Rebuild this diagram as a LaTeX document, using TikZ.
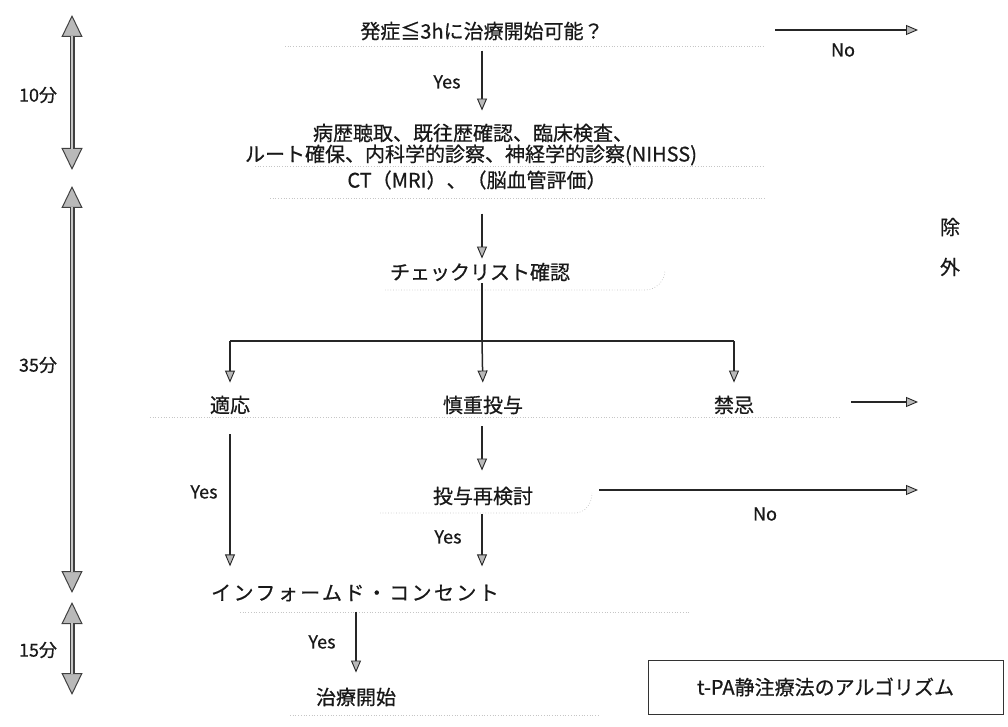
\documentclass[tikz,border=0pt]{standalone}
\usepackage{fontspec}
\setmainfont{Noto Sans CJK JP}[FakeBold=0.6]
\usetikzlibrary{arrows.meta}
\begin{document}
\begin{tikzpicture}[x=1pt,y=-1pt,
  txt/.style={font=\fontsize{20}{24}\selectfont, inner sep=2pt, text=black!90},
  lbl/.style={font=\fontsize{18}{21}\selectfont, inner sep=1pt, text=black!90},
  ln/.style={line width=1.5pt, draw=black!85},
  arr/.style={ln, -{Triangle[length=12pt,width=10pt,fill=gray!55,line width=0.9pt]}},
  tl/.style={line width=5pt, draw=black!75,
    {Triangle[length=22pt,width=21pt,fill=gray!55,line width=1pt]}-{Triangle[length=22pt,width=21pt,fill=gray!55,line width=1pt]}},
  tlin/.style={line width=1.6pt, draw=gray!45, shorten <=21pt, shorten >=21pt},
  trace/.style={draw=gray!45, line width=0.7pt, dotted},
  titlebox/.style={draw=black!80, line width=1pt, minimum width=355pt, minimum height=54pt, font=\fontsize{20}{24}\selectfont, text=black!90}]
\useasboundingbox[fill=white] (0,0) rectangle (1008,727);

% faint scan traces of the original boxes
\draw[trace] (285,46) -- (765,46);
\draw[trace] (255,166) -- (765,166);
\draw[trace] (270,198) -- (765,198);
\draw[trace] (385,290) -- (645,290) to[out=0,in=-90] (665,270);
\draw[trace] (150,417) -- (840,417);
\draw[trace] (380,513) -- (575,513) to[out=0,in=-90] (592,493);
\draw[trace] (240,612) -- (690,612);
\draw[trace] (290,715) -- (600,715);

% timeline
\coordinate (t1a) at (72,15);  \coordinate (t1b) at (72,170);
\coordinate (t2a) at (72,186); \coordinate (t2b) at (72,593);
\coordinate (t3a) at (72,602); \coordinate (t3b) at (72,695);
\draw[tl] (t1a) -- (t1b);  \draw[tlin] (t1a) -- (t1b);
\draw[tl] (t2a) -- (t2b);  \draw[tlin] (t2a) -- (t2b);
\draw[tl] (t3a) -- (t3b);  \draw[tlin] (t3a) -- (t3b);
\node[lbl] (m10) at (38,95) {10分};
\node[lbl] (m35) at (38,365) {35分};
\node[lbl] (m15) at (38,650) {15分};

% nodes
\node[txt] (q)  at (482,31)  {発症≦3hに治療開始可能？};
\node[txt] (h1) at (473,133) {病歴聴取、既往歴確認、臨床検査、};
\node[txt] (h2) at (471,155) {ルート確保、内科学的診察、神経学的診察(NIHSS)};
\node[txt] (ct) at (477,180) {CT（MRI）、（脳血管評価）};
\node[txt] (ch) at (480,272) {チェックリスト確認};
\node[txt] (a1) at (230,405) {適応};
\node[txt] (a2) at (483,405) {慎重投与};
\node[txt] (a3) at (734,405) {禁忌};
\node[txt] (re) at (483,496) {投与再検討};
\node[txt, font=\fontsize{20}{24}\selectfont\addfontfeature{LetterSpace=12}] (ic) at (355,593) {インフォームド・コンセント};
\node[txt] (st) at (356,697) {治療開始};
\node[txt, align=center, font=\fontsize{20}{40}\selectfont] (ex) at (950,247) {除\\外};
\node[titlebox] (title) at (825.5,687) {t-PA静注療法のアルゴリズム};

% helper coordinates
\coordinate (sp) at (482,0);
\coordinate (sl) at (230,0);
\coordinate (sm) at (356,0);
\coordinate (br) at (482,341);
\coordinate (bl) at (230,341);
\coordinate (bR) at (734,341);
\coordinate (n1a) at (775,30);  \coordinate (n1b) at (918,30);
\coordinate (n2a) at (851,402); \coordinate (n2b) at (918,402);
\coordinate (n3a) at (599,490); \coordinate (n3b) at (918,490);

% connectors
\draw[arr] (n1a) -- (n1b);
\node[lbl] (no1) at (843,50) {No};
\draw[arr, shorten <=8pt, shorten >=11pt] (q.south -| sp) -- (h1.north -| sp);
\node[lbl] (y1) at (447,82) {Yes};
\draw[arr, shorten <=22pt, shorten >=2pt] (ct.south -| sp) -- (ch.north -| sp);
\draw[ln] (ch.south -| sp) -- (br);
\draw[ln] (bl) -- (bR);
\draw[arr, shorten >=11pt] (bl) -- (a1.north);
\draw[arr, shorten >=11pt] (br) -- (a2.north);
\draw[arr, shorten >=11pt] (bR) -- (a3.north);
\draw[arr] (n2a) -- (n2b);
\draw[arr, shorten <=10pt, shorten >=14pt] (a2.south -| sp) -- (re.north -| sp);
\draw[arr] (n3a) -- (n3b);
\node[lbl] (no2) at (765,514) {No};
\draw[arr, shorten <=7pt, shorten >=16pt] (re.south -| sp) -- (ic.north -| sp);
\node[lbl] (y2) at (448,537) {Yes};
\draw[arr, shorten <=18pt, shorten >=16pt] (a1.south) -- (ic.north -| sl);
\node[lbl] (y3) at (204,492) {Yes};
\draw[arr, shorten <=8pt, shorten >=13pt] (ic.south -| sm) -- (st.north -| sm);
\node[lbl] (y4) at (322,642) {Yes};
\end{tikzpicture}
\end{document}
